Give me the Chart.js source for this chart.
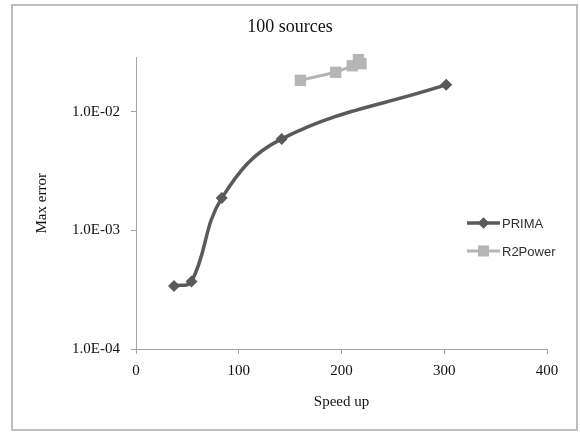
<!DOCTYPE html>
<html lang="en">
<head>
    <meta charset="UTF-8">
    <title>100 sources</title>
    <script src="https://cdn.jsdelivr.net/npm/chart.js"></script>
    <style>
        body { margin: 0; background: #fff; }
        #wrap { width: 580px; height: 432px; }
    </style>
</head>
<body>

<div id="wrap"><canvas id="errChart"></canvas></div>

<script>
    // values
    const seriesNames = ['PRIMA', 'R2Power'];
    const primaSpeedup = [37, 54, 83.4, 141.8, 301.9];
    const primaError = [3.4e-4, 3.7e-4, 1.87e-3, 5.9e-3, 1.69e-2];
    const r2Speedup = [160, 194.4, 210.5, 216.5, 219];
    const r2Error = [1.84e-2, 2.15e-2, 2.44e-2, 2.75e-2, 2.54e-2];
    const yTickValues = [1e-4, 1e-3, 1e-2];
    const yTickLabels = ['1.0E-04', '1.0E-03', '1.0E-02'];

    const toPoints = (xs, ys) => xs.map((x, i) => ({ x: x, y: ys[i] }));

    const serif = 'Liberation Serif';
    const axisGray = '#a3a3a3';

    // outer frame of the chart
    const framePlugin = {
        id: 'frame',
        beforeDraw(chart) {
            const ctx = chart.ctx;
            ctx.save();
            ctx.strokeStyle = '#bdbdbd';
            ctx.lineWidth = 2;
            ctx.strokeRect(12, 5, 565, 425);
            ctx.restore();
        }
    };

    // legend drawn inside the plot area, right side
    const legendPlugin = {
        id: 'sideLegend',
        afterDraw(chart) {
            const ctx = chart.ctx;
            ctx.save();
            chart.data.datasets.forEach((ds, i) => {
                const y = 223 + i * 28;
                ctx.strokeStyle = ds.borderColor;
                ctx.lineWidth = ds.borderWidth;
                ctx.beginPath();
                ctx.moveTo(467, y);
                ctx.lineTo(500, y);
                ctx.stroke();
                ctx.fillStyle = ds.pointBackgroundColor;
                Chart.helpers.drawPoint(ctx, {
                    pointStyle: ds.pointStyle,
                    radius: ds.pointStyle === 'rect' ? 7.5 : 5.5,
                    rotation: 0,
                    borderWidth: 0
                }, 483.5, y);
                ctx.fill();
                ctx.fillStyle = '#303030';
                ctx.font = '13px "Liberation Sans"';
                ctx.textBaseline = 'middle';
                ctx.textAlign = 'left';
                ctx.fillText(ds.label, 502, y + 1);
            });
            ctx.restore();
        }
    };

    const ctx = document.getElementById('errChart').getContext('2d');
    new Chart(ctx, {
        type: 'line',
        data: {
            datasets: [{
                label: seriesNames[0],
                data: toPoints(primaSpeedup, primaError),
                borderColor: '#5a5a5a',
                backgroundColor: '#5a5a5a',
                pointBackgroundColor: '#5a5a5a',
                pointBorderWidth: 0,
                borderWidth: 3.5,
                pointStyle: 'rectRot',
                pointRadius: 6,
                tension: 0.4,
                clip: false
            }, {
                label: seriesNames[1],
                data: toPoints(r2Speedup, r2Error),
                borderColor: '#b5b5b5',
                backgroundColor: '#b5b5b5',
                pointBackgroundColor: '#b5b5b5',
                pointBorderWidth: 0,
                borderWidth: 3,
                pointStyle: 'rect',
                pointRadius: 8,
                tension: 0,
                clip: false
            }]
        },
        options: {
            responsive: true,
            maintainAspectRatio: false,
            animation: false,
            layout: { padding: { left: 33, right: 33, top: 10, bottom: 21 } },
            plugins: {
                legend: { display: false },
                tooltip: { enabled: false },
                title: {
                    display: true,
                    text: '100 sources',
                    color: '#111',
                    font: { family: serif, size: 18, weight: 'normal' },
                    padding: { top: 6, bottom: 20 }
                }
            },
            scales: {
                x: {
                    type: 'linear',
                    min: 0,
                    max: 400,
                    ticks: {
                        stepSize: 100,
                        color: '#111',
                        padding: 8,
                        font: { family: serif, size: 15 }
                    },
                    grid: {
                        drawOnChartArea: false,
                        color: axisGray,
                        tickLength: 5
                    },
                    border: { color: axisGray, width: 1 },
                    title: {
                        display: true,
                        text: 'Speed up',
                        color: '#111',
                        padding: 0,
                        font: { family: serif, size: 15 }
                    },
                    afterFit(scale) { scale.height = 62; }
                },
                y: {
                    type: 'logarithmic',
                    min: 1e-4,
                    max: 0.0286,
                    afterBuildTicks(scale) {
                        scale.ticks = yTickValues.map(v => ({ value: v }));
                    },
                    ticks: {
                        color: '#111',
                        padding: 11,
                        font: { family: serif, size: 15 },
                        callback: (value, index) => yTickLabels[index]
                    },
                    grid: {
                        drawOnChartArea: false,
                        color: axisGray,
                        tickLength: 5
                    },
                    border: { color: axisGray, width: 1 },
                    title: {
                        display: true,
                        text: 'Max error',
                        color: '#111',
                        padding: 0,
                        font: { family: serif, size: 15 }
                    },
                    afterFit(scale) { scale.width = 103; }
                }
            }
        },
        plugins: [framePlugin, legendPlugin]
    });
</script>

</body>
</html>
